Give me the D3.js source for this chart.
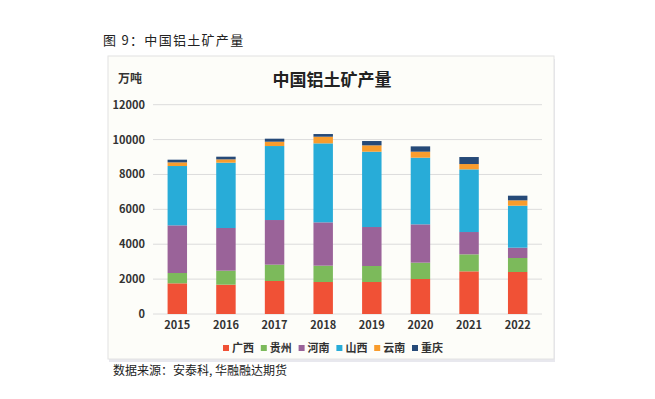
<!DOCTYPE html>
<html lang="zh">
<head>
<meta charset="UTF-8">
<title>中国铝土矿产量</title>
<script src="https://d3js.org/d3.v7.min.js"></script>
<style>
  body { margin: 0; background: #fff; }
  text { font-family: 'Noto Sans CJK SC', 'Noto Sans', sans-serif; fill: #333; }
  .tick text { font-size: 11px; font-weight: bold; fill: #333; }
</style>
</head>
<body>
<svg width="655" height="399"></svg>
<script>
  // data (万吨)
  const years = ["2015", "2016", "2017", "2018", "2019", "2020", "2021", "2022"];
  const provinces = ["广西", "贵州", "河南", "山西", "云南", "重庆"];
  const guangxi = [1758, 1681, 1892, 1834, 1834, 2006, 2446, 2408];
  const guizhou = [592, 803, 936, 937, 918, 937, 974, 802];
  const henan   = [2733, 2446, 2560, 2484, 2235, 2197, 1280, 593];
  const shanxi  = [3401, 3745, 4242, 4528, 4319, 3822, 3593, 2407];
  const yunnan  = [210, 191, 249, 382, 363, 344, 305, 306];
  const chongqing = [153, 153, 172, 153, 248, 305, 402, 267];
  const yTicks = [0, 2000, 4000, 6000, 8000, 10000, 12000];

  const colors = ["#f05136", "#7cba5b", "#9a6399", "#28acd8", "#f99c2c", "#264a78"];
  const series = [guangxi, guizhou, henan, shanxi, yunnan, chongqing];

  const table = years.map((yr, i) => {
    const row = { year: yr };
    provinces.forEach((p, j) => { row[p] = series[j][i]; });
    return row;
  });
  const stacked = d3.stack().keys(provinces)(table);

  const svg = d3.select("svg");

  // heading above panel
  svg.append("text")
    .attr("x", 103).attr("y", 45)
    .style("font-size", "13px")
    .style("letter-spacing", "1.3px")
    .style("fill", "#222")
    .text("图 9：中国铝土矿产量");

  // panel
  svg.append("rect")
    .attr("x", 109).attr("y", 59).attr("width", 446).attr("height", 303)
    .attr("fill", "#e8e8ee");
  svg.append("rect")
    .attr("x", 108).attr("y", 56).attr("width", 446).attr("height", 303)
    .attr("fill", "#fdfdf9")
    .attr("stroke", "#e2e2e2");

  const margin = { left: 153, right: 542, top: 104.7, bottom: 314 };
  const x = d3.scaleBand().domain(years).range([margin.left, margin.right]).paddingInner(0.6).paddingOuter(0.3);
  const y = d3.scaleLinear().domain([0, 12000]).range([margin.bottom, margin.top]);

  // grid
  svg.append("g").selectAll("line")
    .data(yTicks).join("line")
    .attr("x1", margin.left).attr("x2", margin.right)
    .attr("y1", d => y(d)).attr("y2", d => y(d))
    .attr("stroke", "#dcdcdc").attr("stroke-width", 1);

  // y axis
  const yAxis = svg.append("g")
    .attr("transform", `translate(${margin.left - 8},0)`)
    .call(d3.axisLeft(y).tickValues(yTicks).tickSize(0).tickPadding(0).tickFormat(d3.format("d")));
  yAxis.select(".domain").remove();

  // x axis
  const xAxis = svg.append("g")
    .attr("transform", `translate(0,${margin.bottom})`)
    .call(d3.axisBottom(x).tickSize(0).tickPadding(7));
  xAxis.select(".domain").remove();

  // bars
  svg.append("g").selectAll("g")
    .data(stacked).join("g")
    .attr("fill", (d, i) => colors[i])
    .selectAll("rect")
    .data(d => d).join("rect")
    .attr("x", d => x(d.data.year))
    .attr("width", x.bandwidth())
    .attr("y", d => y(d[1]))
    .attr("height", d => y(d[0]) - y(d[1]));

  // unit & title
  svg.append("text")
    .attr("x", 118).attr("y", 83)
    .style("font-size", "12px").style("font-weight", "bold")
    .text("万吨");
  svg.append("text")
    .attr("x", 332).attr("y", 86)
    .attr("text-anchor", "middle")
    .style("font-size", "17px").style("font-weight", "bold")
    .style("fill", "#222")
    .text("中国铝土矿产量");

  // legend
  const legend = svg.append("g").attr("transform", "translate(223,348)");
  const item = legend.selectAll("g")
    .data(provinces).join("g")
    .attr("transform", (d, i) => `translate(${i * 37.8},0)`);
  item.append("rect")
    .attr("x", 0).attr("y", -3).attr("width", 6).attr("height", 6)
    .attr("fill", (d, i) => colors[i]);
  item.append("text")
    .attr("x", 9).attr("y", 4)
    .style("font-size", "11px").style("font-weight", "bold")
    .text(d => d);

  // source
  svg.append("text")
    .attr("x", 113).attr("y", 375)
    .style("font-size", "12px")
    .style("fill", "#222")
    .text("数据来源：安泰科, 华融融达期货");
</script>
</body>
</html>
